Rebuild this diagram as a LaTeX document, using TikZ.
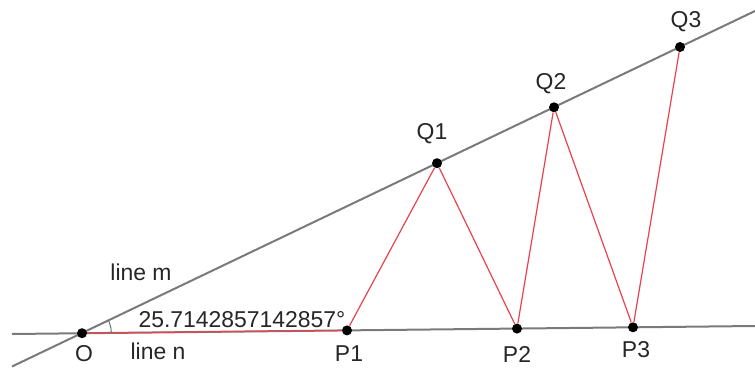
\documentclass[tikz,border=0pt]{standalone}
\usepackage{fontspec}
\setmainfont{Liberation Sans}
\usetikzlibrary{angles,calc}

\definecolor{linegray}{HTML}{7A7A7A}
\definecolor{segred}{HTML}{E8424F}
\tikzset{
  pt/.style={circle,fill=black,inner sep=0pt,minimum size=7.5pt},
  lbl/.style={text=black!85,font=\fontsize{17.2}{20}\selectfont,inner sep=1pt},
  lineg/.style={linegray,line width=1.5pt},
  seg/.style={segred,line width=0.9pt},
}

\begin{document}
\begin{tikzpicture}[x=0.75pt,y=-0.75pt]
\useasboundingbox (0,0) rectangle (755,374);
% the two lines through O
\coordinate (nL) at (12,334);
\coordinate (nR) at (755,326);
\coordinate (mL) at (12,366.5);
\coordinate (mR) at (755,11);
\draw[lineg] (nL) -- (nR);
\draw[lineg] (mL) -- (mR);
% points
\node[pt] (O)  at (82,333.2) {};
\node[pt] (P1) at (347,330.4) {};
\node[pt] (P2) at (517,328.6) {};
\node[pt] (P3) at (633,327.3) {};
\node[pt] (Q1) at (437,163.2) {};
\node[pt] (Q2) at (554,107.3) {};
\node[pt] (Q3) at (680,47) {};
% zig-zag
\draw[seg] (O) -- (P1) -- (Q1) -- (P2) -- (Q2) -- (P3) -- (Q3);
\pic[draw=linegray,line width=0.8pt,angle radius=22pt] {angle=P1--O--Q1};
% labels
\node[lbl] (lO)  at (84,354) {O};
\node[lbl] (lP1) at (349,354) {P1};
\node[lbl] (lP2) at (517,354) {P2};
\node[lbl] (lP3) at (636,350) {P3};
\node[lbl] (lQ1) at (432,134) {Q1};
\node[lbl] (lQ2) at (551,84) {Q2};
\node[lbl] (lQ3) at (686,22) {Q3};
\node[lbl] (lm) at (141,272) {line m};
\node[lbl] (ln) at (158,351) {line n};
\node[lbl] (ang) at (242,320) {25.7142857142857°};
\end{tikzpicture}
\end{document}
